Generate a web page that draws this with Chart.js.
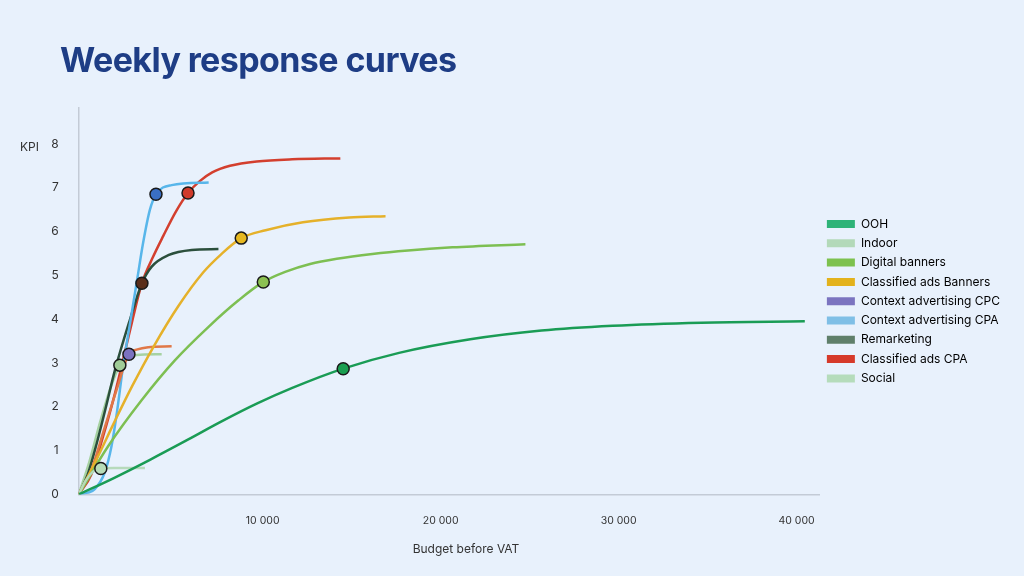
<!DOCTYPE html>
<html>
<head>
<meta charset="utf-8">
<script src="https://cdn.jsdelivr.net/npm/chart.js@4.4.1/dist/chart.umd.min.js"></script>
<style>
  html, body { margin: 0; padding: 0; background: #e8f1fc; }
  #wrap { position: relative; width: 1024px; height: 576px; overflow: hidden; font-family: Inter, 'Noto Sans', sans-serif; }
  #title { position: absolute; left: 60px; top: 43px; margin: 0; font-size: 34px; line-height: 34px; font-weight: 700; color: #1e3d85; letter-spacing: -0.6px; }
  #kpi { position: absolute; left: 20px; top: 140px; font-size: 12px; line-height: 14px; color: #333; }
  #xtitle { position: absolute; left: 366px; width: 200px; text-align: center; top: 542px; font-size: 12px; line-height: 14px; color: #333; }
  canvas { position: absolute; left: 0; top: 0; }
</style>
</head>
<body>
<div id="wrap">
  <canvas id="grafico" width="1024" height="576"></canvas>
  <h1 id="title">Weekly response curves</h1>
  <div id="kpi">KPI</div>
  <div id="xtitle">Budget before VAT</div>
</div>
<script>
// series: budget (x) and KPI (y) per channel
const seriesNames = ['OOH', 'Indoor', 'Digital banners', 'Classified ads Banners', 'Context advertising CPC',
  'Context advertising CPA', 'Remarketing', 'Classified ads CPA', 'Social'];

const oohBudget = [0, 2000, 4000, 6000, 8000, 10000, 12000, 14860, 18000, 22000, 26000, 30000, 35000, 40800];
const oohKpi = [0, 0.38, 0.79, 1.22, 1.66, 2.07, 2.43, 2.87, 3.23, 3.54, 3.74, 3.85, 3.92, 3.95];

const indoorBudget = [0, 400, 800, 1240, 2000, 3720];
const indoorKpi = [0, 0.32, 0.52, 0.59, 0.6, 0.6];

const digitalBudget = [0, 1650, 3530, 5400, 7280, 8980, 10370, 11600, 13000, 14500, 16500, 18500, 21000, 25100];
const digitalKpi = [0, 1.1, 2.15, 3.06, 3.82, 4.43, 4.85, 5.08, 5.26, 5.38, 5.49, 5.57, 5.64, 5.71];

const classBannersBudget = [0, 1000, 2000, 3000, 4200, 5600, 7000, 8000, 9130, 10500, 12600, 15200, 17240];
const classBannersKpi = [0, 0.8, 1.65, 2.47, 3.37, 4.3, 5.07, 5.48, 5.85, 6.03, 6.21, 6.32, 6.35];

const cpcBudget = [0, 700, 1400, 2100, 2820, 3300, 3900, 5220];
const cpcKpi = [0, 0.55, 1.45, 2.35, 3.2, 3.31, 3.36, 3.38];

const cpaBudget = [0, 500, 900, 1460, 1840, 2120, 2500, 2900, 3300, 3620, 4000, 4340, 5220, 7300];
const cpaKpi = [0, 0.04, 0.12, 0.5, 1.1, 1.8, 2.95, 3.95, 4.95, 5.75, 6.5, 6.85, 7.06, 7.12];

const remarketingBudget = [0, 500, 1000, 1500, 2030, 2870, 3550, 4100, 5030, 6350, 7850];
const remarketingKpi = [0, 0.45, 1.15, 1.95, 2.83, 3.98, 4.82, 5.2, 5.46, 5.58, 5.6];

const classCpaBudget = [0, 700, 1350, 2000, 2420, 3000, 3550, 4150, 4750, 5450, 6140, 6800, 7500, 8500, 10000, 12000, 14700];
const classCpaKpi = [0, 0.45, 1.3, 2.25, 2.95, 3.95, 4.82, 5.4, 5.9, 6.45, 6.88, 7.15, 7.35, 7.5, 7.6, 7.65, 7.67];

const socialBudget = [0, 600, 1200, 1800, 2310, 2800, 3250, 4660];
const socialKpi = [0, 0.75, 1.65, 2.45, 2.95, 3.12, 3.18, 3.2];

// highlighted point on each curve
const dotBudget = [14860, 1240, 10370, 9130, 2820, 4340, 3550, 6140, 2310];
const dotKpi = [2.87, 0.59, 4.85, 5.85, 3.2, 6.85, 4.82, 6.88, 2.95];

const yTicks = [0, 1, 2, 3, 4, 5, 6, 7, 8];
const xTicks = [10000, 20000, 30000, 40000];

const budgets = [oohBudget, indoorBudget, digitalBudget, classBannersBudget, cpcBudget, cpaBudget, remarketingBudget, classCpaBudget, socialBudget];
const kpis = [oohKpi, indoorKpi, digitalKpi, classBannersKpi, cpcKpi, cpaKpi, remarketingKpi, classCpaKpi, socialKpi];

const lineColors = ['#1a9c55', '#b6dabb', '#7dbf52', '#e5b12a', '#e07848', '#58b6ea', '#2b4f3c', '#d33f2e', '#a6d2a2'];
const legendColors = ['#2eb378', '#b3d9b9', '#7dc14e', '#e3b21c', '#7b74c0', '#7fbfe6', '#5f7f6a', '#d63a2a', '#b5dcbb'];
const dotColors = ['#1a9e50', '#b8dcb8', '#8cc152', '#e6b820', '#7b72c0', '#3a6fc4', '#5a2e1a', '#d03a2a', '#a0cc98'];

Chart.defaults.font.family = "Inter, 'Noto Sans', sans-serif";
Chart.defaults.font.size = 12;
Chart.defaults.color = '#333';

const formatBudget = (v) => String(v).replace(/\B(?=(\d{3})+(?!\d))/g, ' ');

const lineSets = seriesNames.map((name, i) => ({
  label: name,
  data: budgets[i].map((b, j) => ({ x: b, y: kpis[i][j] })),
  borderColor: lineColors[i],
  backgroundColor: legendColors[i],
  borderWidth: 2.5,
  pointRadius: 0,
  pointHoverRadius: 0,
  fill: false,
  cubicInterpolationMode: 'monotone'
}));

const dotSet = {
  label: 'dots',
  data: dotBudget.map((b, i) => ({ x: b, y: dotKpi[i] })),
  showLine: false,
  pointRadius: 6,
  pointHoverRadius: 6,
  pointBackgroundColor: dotColors,
  pointBorderColor: '#1a1a1a',
  pointBorderWidth: 1.5
};

const ctx = document.getElementById('grafico').getContext('2d');
new Chart(ctx, {
  type: 'line',
  data: { datasets: [dotSet, ...lineSets] },
  options: {
    responsive: false,
    animation: false,
    devicePixelRatio: 1,
    layout: { padding: { left: 31, top: 108, right: 14, bottom: 29 } },
    plugins: {
      tooltip: { enabled: false },
      legend: {
        position: 'right',
        align: 'center',
        fullSize: false,
        labels: {
          boxWidth: 28,
          boxHeight: 8,
          padding: 7.3,
          color: '#333',
          font: { size: 12 },
          generateLabels: () => seriesNames.map((name, i) => ({
            text: name,
            fillStyle: legendColors[i],
            strokeStyle: legendColors[i],
            lineWidth: 0,
            hidden: false,
            datasetIndex: i + 1
          }))
        }
      }
    },
    scales: {
      x: {
        type: 'linear',
        min: 0,
        max: 41630,
        grid: { display: false, drawTicks: false },
        border: { display: true, color: '#c3cbd6', width: 1.5 },
        afterBuildTicks: (axis) => { axis.ticks = xTicks.map(v => ({ value: v })); },
        ticks: {
          padding: 20,
          labelOffset: 6,
          font: { size: 10.5 },
          color: '#333',
          callback: (v) => formatBudget(v)
        }
      },
      y: {
        min: 0,
        max: 8.82,
        grid: { display: false, drawTicks: false },
        border: { display: true, color: '#c3cbd6', width: 1.5 },
        afterBuildTicks: (axis) => { axis.ticks = yTicks.map(v => ({ value: v })); },
        ticks: {
          padding: 20,
          font: { size: 12 },
          color: '#333'
        }
      }
    }
  }
});
</script>
</body>
</html>
